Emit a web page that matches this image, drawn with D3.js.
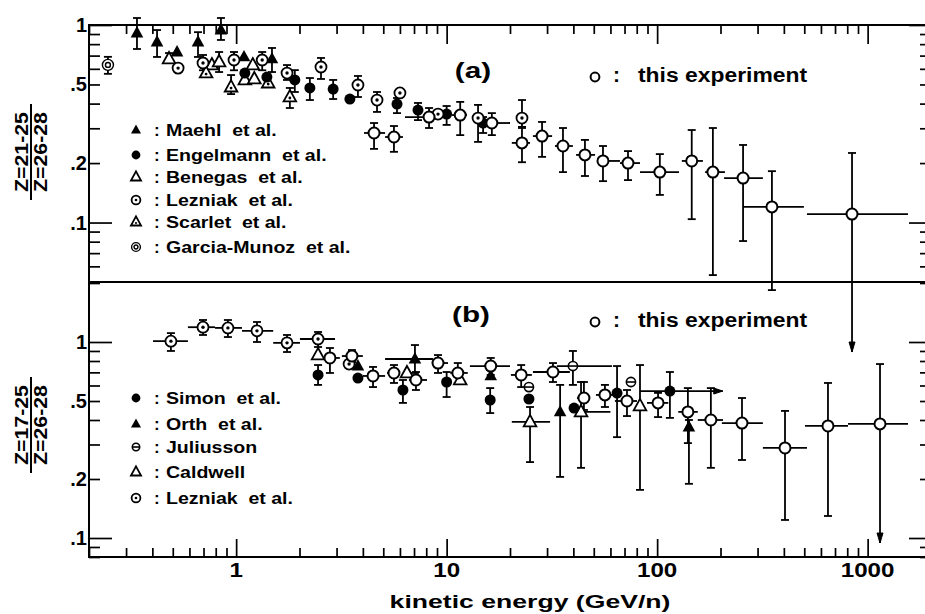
<!DOCTYPE html>
<html>
<head>
<meta charset="utf-8">
<script src="https://cdn.jsdelivr.net/npm/d3@7"></script>
<style>
  body { margin: 0; background: #fff; }
  svg { display: block; font-family: "Liberation Sans", Arial, sans-serif; font-weight: bold; }
</style>
</head>
<body>
<svg id="chart" width="925" height="614"></svg>
<script>
// rows: energy (GeV/n), ratio, low, high, energy low, energy high, flag
// panel (a): Z=21-25 / Z=26-28
const thisExpA = [
  [4.52, 0.284, 0.236, 0.319, 4.05, 5.1],
  [5.62, 0.271, 0.228, 0.308, 5.1, 6.2],
  [8.25, 0.342, 0.301, 0.38, 6.34, 9.3],
  [11.6, 0.35, 0.277, 0.408, 10.6, 12.5],
  [16.4, 0.319, 0.277, 0.358, 15.6, 20.0],
  [22.8, 0.253, 0.202, 0.301, 20.4, 24.9],
  [28.4, 0.274, 0.215, 0.323, 25.7, 31.7],
  [35.7, 0.244, 0.18, 0.301, 32.7, 39.8],
  [45.4, 0.22, 0.172, 0.262, 41.2, 50.7],
  [55.3, 0.205, 0.162, 0.244, 52.4, 66.6],
  [72.7, 0.2, 0.164, 0.23, 66.6, 82.9],
  [103, 0.18, 0.138, 0.222, 82.9, 127],
  [146, 0.205, 0.104, 0.294, 131, 165],
  [184, 0.18, 0.0542, 0.301, 169, 210],
  [256, 0.168, 0.0806, 0.247, 208, 318],
  [351, 0.12, 0.0455, 0.182, 256, 498],
  [843, 0.1104, 0.0221, 0.225, 515, 1555, 'down']
];
const maehl = [
  [0.338, 0.911, 0.756, 1.085],
  [0.421, 0.82, 0.689, 0.943],
  [0.524, 0.73, null, null],
  [0.659, 0.82, 0.689, 0.92],
  [0.847, 0.943, 0.84, 1.085],
  [1.09, 0.689, null, null],
  [1.48, 0.673, 0.578, 0.765]
];
const engelmann = [
  [1.10, 0.571, null, null],
  [1.40, 0.545, null, null],
  [1.90, 0.527, 0.458, 0.591],
  [2.24, 0.48, 0.417, 0.539],
  [2.89, 0.474, 0.422, 0.527],
  [3.47, 0.422, null, null],
  [5.81, 0.398, 0.358, 0.427],
  [7.31, 0.371, 0.33, 0.403],
  [10.0, 0.354, 0.312, 0.389],
  [14.9, 0.319, 0.284, 0.342]
];
const benegas = [
  [0.48, 0.673, 0.642, 0.721],
  [0.767, 0.627, null, null],
  [0.83, 0.65, 0.578, 0.73],
  [1.10, 0.527, null, null],
  [1.20, 0.627, null, null],
  [1.22, 0.533, null, null]
];
const scarlet = [
  [0.72, 0.571, null, null],
  [0.946, 0.485, 0.447, 0.558],
  [1.42, 0.508, null, null],
  [1.80, 0.432, 0.38, 0.48]
];
const lezniakA = [
  [0.53, 0.605, null, null],
  [0.696, 0.642, 0.59, 0.705],
  [0.977, 0.665, 0.59, 0.73],
  [1.33, 0.665, 0.59, 0.73],
  [1.745, 0.571, 0.527, 0.627],
  [2.53, 0.613, 0.533, 0.681],
  [3.79, 0.497, 0.432, 0.552],
  [4.67, 0.417, 0.363, 0.458],
  [6.0, 0.453, null, null],
  [9.1, 0.354, null, null],
  [14.1, 0.338, 0.256, 0.394],
  [22.8, 0.338, 0.305, 0.417]
];
const garcia = [
  [0.246, 0.628, 0.566, 0.69]
];

// panel (b): Z=17-25 / Z=26-28
const thisExpB = [
  [2.79, 0.829, 0.695, 0.932, 2.59, 3.11],
  [3.55, 0.848, 0.79, 0.91, 3.18, 4.0],
  [4.47, 0.671, 0.589, 0.746, 4.0, 5.1],
  [5.62, 0.695, 0.618, 0.763, 5.21, 6.0],
  [7.15, 0.64, 0.569, 0.703, 6.62, 8.07],
  [9.1, 0.781, 0.695, 0.858, 8.52, 10.15],
  [11.3, 0.695, 0.618, 0.781, 10.4, 12.6],
  [16.2, 0.754, 0.679, 0.829, 12.9, 20.0],
  [22.6, 0.679, 0.589, 0.763, 20.2, 25.4],
  [32.0, 0.703, 0.625, 0.781, 25.7, 38.5],
  [44.9, 0.518, 0.45, 0.625, 41.6, 48],
  [56.5, 0.537, 0.466, 0.604, 51.2, 63],
  [71.9, 0.5, 0.419, 0.569, 63, 80.2],
  [101, 0.489, 0.414, 0.55, 89.5, 113],
  [140, 0.44, 0.305, 0.582, 126, 156],
  [180, 0.4, 0.228, 0.582, 156, 205.6],
  [253, 0.386, 0.25, 0.518, 203, 318],
  [405, 0.288, 0.1236, 0.445, 318, 515],
  [648, 0.373, 0.1295, 0.618, 504, 807],
  [1145, 0.382, 0.0943, 0.772, 807, 1555, 'down']
];
const simon = [
  [2.45, 0.679, 0.604, 0.763],
  [3.79, 0.655, null, null],
  [6.2, 0.569, 0.489, 0.64],
  [10.0, 0.625, 0.524, 0.703],
  [16.1, 0.506, 0.434, 0.582],
  [24.6, 0.512, null, null],
  [40.3, 0.46, null, null],
  [64.5, 0.549, 0.327, 0.754],
  [115, 0.562, 0.41, 0.703, 82.9, 205, 'right']
];
const orth = [
  [3.79, 0.754, null, null],
  [7.07, 0.819, 0.695, 0.965, 5.1, 8.61],
  [16.2, 0.671, null, null],
  [34.6, 0.44, 0.205, 0.604],
  [141.6, 0.368, 0.189, 0.40]
];
const juliusson = [
  [24.6, 0.589, null, null],
  [39.8, 0.754, 0.604, 0.9, 33.4, 61],
  [75.1, 0.625, null, null]
];
const caldwell = [
  [2.45, 0.858, null, null],
  [6.48, 0.695, null, null],
  [11.6, 0.64, null, null],
  [24.9, 0.391, 0.244, 0.466, 20.4, 31],
  [43.5, 0.44, 0.228, 0.625, 41, 60],
  [82.9, 0.472, 0.176, 0.763]
];
const lezniakB = [
  [0.49, 1.01, 0.9, 1.11, 0.403, 0.59],
  [0.696, 1.19, 1.086, 1.295, 0.59, 0.794],
  [0.914, 1.18, 1.06, 1.295, 0.794, 1.066],
  [1.256, 1.14, 1.0, 1.265, 1.066, 1.5],
  [1.745, 0.99, 0.889, 1.086, 1.5, 2.01],
  [2.45, 1.036, 0.943, 1.125, 2.01, 2.95],
  [3.44, 0.772, null, null]
];

const xTickLabels = ['1', '10', '100', '1000'];
const yTickLabels = ['1', '.5', '.2', '.1'];
const legendA = [['tri', 'Maehl  et al.'], ['fill', 'Engelmann  et al.'], ['otri', 'Benegas  et al.'],
  ['dot', 'Lezniak  et al.'], ['dtri', 'Scarlet  et al.'], ['dbl', 'Garcia-Munoz  et al.']];
const legendB = [['fill', 'Simon  et al.'], ['tri', 'Orth  et al.'], ['bar', 'Juliusson'],
  ['otri', 'Caldwell'], ['dot', 'Lezniak  et al.']];

const svg = d3.select('#chart');
const x = d3.scaleLog().domain([0.2, 2000]).range([89, 931]);
const yA = d3.scaleLog().domain([0.05, 1]).range([282, 25]);
const yB = d3.scaleLog().domain([0.08, 2]).range([557, 283]);

const isMajor = v => Math.abs(Math.log10(v) - Math.round(Math.log10(v))) < 1e-6;

// ticks
function ticks(gen, scale, values, size, tr) {
  svg.append('g').attr('transform', tr)
    .call(gen(scale).tickValues(values).tickSize(size).tickSizeOuter(0).tickFormat(''))
    .call(g => g.select('.domain').remove())
    .selectAll('line').attr('stroke', '#000').attr('stroke-width', 1.7);
}
const xT = x.ticks();
const xMaj = xT.filter(isMajor), xMin = xT.filter(v => !isMajor(v));
ticks(d3.axisTop, x, xMaj, 18, 'translate(0,557)');
ticks(d3.axisTop, x, xMin, 9, 'translate(0,557)');
ticks(d3.axisBottom, x, xMaj, 19, 'translate(0,25)');
ticks(d3.axisBottom, x, xMin, 9, 'translate(0,25)');
[yA, yB].forEach(ys => {
  const t = ys.ticks();
  const maj = t.filter(isMajor), mn = t.filter(v => !isMajor(v));
  ticks(d3.axisRight, ys, maj, 23, 'translate(89,0)');
  ticks(d3.axisRight, ys, mn, 11, 'translate(89,0)');
  ticks(d3.axisLeft, ys, maj, 22, 'translate(931,0)');
  ticks(d3.axisLeft, ys, mn, 11, 'translate(931,0)');
});

// frame
svg.append('rect').attr('x', 89).attr('y', 25).attr('width', 842).attr('height', 532)
  .attr('fill', 'none').attr('stroke', '#000').attr('stroke-width', 2);
svg.append('line').attr('x1', 89).attr('x2', 931).attr('y1', yA.range()[0]).attr('y2', yA.range()[0])
  .attr('stroke', '#000').attr('stroke-width', 2);

function txt(x0, y0, str, size, sx, anchor) {
  return svg.append('text')
    .attr('transform', `translate(${x0},${y0}) scale(${sx},1)`)
    .attr('text-anchor', anchor || 'start')
    .attr('font-size', size)
    .style('white-space', 'pre')
    .text(str);
}

// tick labels
xTickLabels.forEach(s => txt(x(+s), 577, s, 21, 1.15, 'middle'));
yTickLabels.forEach(s => {
  txt(87, yA(+s) + 7, s, 20, 1, 'end');
  txt(87, yB(+s) + 7, s, 20, 1, 'end');
});
txt(530, 608, 'kinetic energy (GeV/n)', 19, 1.4, 'middle');

// y titles (stacked fraction)
function fraction(cy, num, den) {
  [[28, num], [47, den]].forEach(([bx, s]) => {
    svg.append('text')
      .attr('transform', `translate(${bx},${cy}) rotate(-90) scale(1.12,1)`)
      .attr('text-anchor', 'middle').attr('font-size', 19).text(s);
  });
  svg.append('line').attr('x1', 31).attr('x2', 31).attr('y1', cy - 48).attr('y2', cy + 48)
    .attr('stroke', '#000').attr('stroke-width', 2);
}
fraction(152, 'Z=21-25', 'Z=26-28');
fraction(425, 'Z=17-25', 'Z=26-28');

// markers
const TRI = s => `M0,${-7 * s}L${6.3 * s},${4.4 * s}L${-6.3 * s},${4.4 * s}Z`;
function marker(g, type, cx, cy, s) {
  const t = g.append('g').attr('transform', `translate(${cx},${cy})`);
  const r = 5.5 * s;
  const open = sel => sel.attr('fill', '#fff').attr('stroke', '#000');
  if (type === 'open') open(t.append('circle').attr('r', r)).attr('stroke-width', 2);
  if (type === 'fill') t.append('circle').attr('r', r).attr('fill', '#000');
  if (type === 'tri') t.append('path').attr('d', TRI(s)).attr('fill', '#000');
  if (type === 'otri' || type === 'dtri') open(t.append('path').attr('d', TRI(s))).attr('stroke-width', 1.8);
  if (type === 'dtri') t.append('circle').attr('cy', 1).attr('r', 1.4 * s).attr('fill', '#000');
  if (type === 'dot') {
    open(t.append('circle').attr('r', r)).attr('stroke-width', 1.8);
    t.append('circle').attr('r', 1.7 * s).attr('fill', '#000');
  }
  if (type === 'dbl') {
    open(t.append('circle').attr('r', r)).attr('stroke-width', 1.4);
    open(t.append('circle').attr('r', r * 0.45)).attr('stroke-width', 1.4);
  }
  if (type === 'bar') {
    open(t.append('circle').attr('r', 4.6 * s)).attr('stroke-width', 1.6);
    t.append('line').attr('x1', -4.6 * s).attr('x2', 4.6 * s).attr('stroke', '#000').attr('stroke-width', 1.6);
  }
}

const gErr = svg.append('g').attr('stroke', '#000').attr('stroke-width', 1.8).attr('fill', 'none');
const gMark = svg.append('g');
function seg(x1, y1, x2, y2) {
  gErr.append('line').attr('x1', x1).attr('y1', y1).attr('x2', x2).attr('y2', y2);
}
function series(rows, y, type) {
  rows.forEach(([e, v, lo, hi, elo, ehi, flag]) => {
    const cx = x(e), cy = y(v);
    if (elo != null) {
      seg(x(elo), cy, x(ehi), cy);
      if (flag === 'right') {
        gErr.append('path').attr('d', `M${x(ehi) - 9},${cy - 3}L${x(ehi)},${cy}L${x(ehi) - 9},${cy + 3}Z`)
          .attr('fill', '#000').attr('stroke-width', 1);
      }
    }
    if (lo != null) {
      seg(cx, y(lo), cx, y(hi));
      seg(cx - 4, y(hi), cx + 4, y(hi));
      if (flag === 'down') {
        gErr.append('path').attr('d', `M${cx - 3},${y(lo) - 10}L${cx},${y(lo)}L${cx + 3},${y(lo) - 10}Z`)
          .attr('fill', '#000').attr('stroke-width', 1);
      } else {
        seg(cx - 4, y(lo), cx + 4, y(lo));
      }
    }
    marker(gMark, type, cx, cy, 1);
  });
}
series(garcia, yA, 'dbl');
series(maehl, yA, 'tri');
series(benegas, yA, 'otri');
series(scarlet, yA, 'dtri');
series(engelmann, yA, 'fill');
series(lezniakA, yA, 'dot');
series(thisExpA, yA, 'open');

series(lezniakB, yB, 'dot');
series(caldwell, yB, 'otri');
series(simon, yB, 'fill');
series(orth, yB, 'tri');
series(juliusson, yB, 'bar');
series(thisExpB, yB, 'open');

// legends
const rowsA = [130, 155, 177, 200, 222, 247];
const rowsB = [398, 424, 447, 472, 498];
function legend(items, rows) {
  items.forEach(([type, label], i) => {
    marker(svg, type, 136, rows[i], 0.8);
    txt(154, rows[i] + 6, ':', 17, 1, 'start');
    txt(166, rows[i] + 6, label, 17, 1.15, 'start');
  });
}
legend(legendA, rowsA);
legend(legendB, rowsB);

// panel captions
txt(473, 78, '(a)', 22, 1.35, 'middle');
txt(471, 322, '(b)', 22, 1.35, 'middle');
[[77, 82], [322, 327]].forEach(([cy, base]) => {
  marker(svg, 'open', 595, cy, 0.8);
  txt(613, base, ':', 21, 1, 'start');
  txt(638, base, 'this experiment', 21, 1.09, 'start');
});
</script>
</body>
</html>
